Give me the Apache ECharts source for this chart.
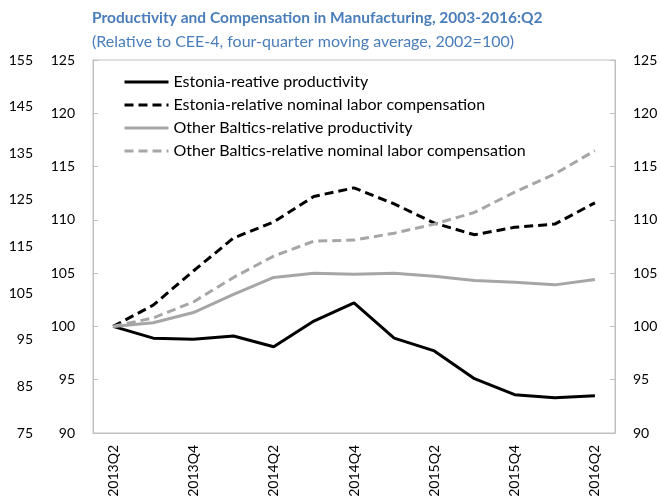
<!DOCTYPE html>
<html>
<head>
<meta charset="utf-8">
<script src="https://cdn.jsdelivr.net/npm/echarts@6/dist/echarts.min.js"></script>
<style>
html,body{margin:0;padding:0;background:#fff;}
#chart{width:661px;height:502px;}
</style>
</head>
<body>
<div id="chart"></div>
<script>
var categories = ['2013Q2','2013Q3','2013Q4','2014Q1','2014Q2','2014Q3','2014Q4','2015Q1','2015Q2','2015Q3','2015Q4','2016Q1','2016Q2'];
var estoniaProductivity = [100, 98.9, 98.8, 99.1, 98.1, 100.5, 102.2, 98.9, 97.7, 95.1, 93.6, 93.3, 93.5];
var estoniaCompensation = [100, 102.0, 105.2, 108.3, 109.8, 112.2, 113.0, 111.5, 109.7, 108.6, 109.3, 109.6, 111.6];
var balticsProductivity = [100, 100.35, 101.3, 103.0, 104.6, 105.0, 104.9, 105.0, 104.7, 104.3, 104.15, 103.9, 104.4];
var balticsCompensation = [100, 100.8, 102.3, 104.6, 106.6, 108.0, 108.1, 108.75, 109.6, 110.7, 112.6, 114.3, 116.5];
var seriesNames = ['Estonia-reative productivity','Estonia-relative nominal labor compensation','Other Baltics-relative productivity','Other Baltics-relative nominal labor compensation'];
var outerAxisBase = 75; // outer left axis labels 75..155

var FONT = 'Lato';
var GRAY = '#a6a6a6';
var AXIS = '#bfbfbf';
var chart = echarts.init(document.getElementById('chart'));
function mk(name, data, color, dashed){
  return {
    name: name, type: 'line', data: data, yAxisIndex: 0,
    symbol: 'none', smooth: false,
    lineStyle: {color: color, width: 3, type: dashed ? [9,5] : 'solid'},
    itemStyle: {color: color}
  };
}
chart.setOption({
  animation: false,
  textStyle: {fontFamily: FONT},
  title: {
    left: 92, top: 10, padding: 0,
    text: 'Productivity and Compensation in Manufacturing, 2003-2016:Q2',
    textStyle: {fontFamily: FONT, fontSize: 15.5, fontWeight: 'bold', color: '#4a7ebb'},
    subtext: '(Relative to CEE-4, four-quarter moving average, 2002=100)',
    subtextStyle: {fontFamily: FONT, fontSize: 16, color: '#4a7ebb'},
    itemGap: 8
  },
  legend: {
    orient: 'vertical', left: 123, top: 74, padding: 0,
    itemWidth: 44, itemHeight: 12, itemGap: 7,
    itemStyle: {opacity: 0},
    lineStyle: {width: 3},
    textStyle: {fontFamily: FONT, fontSize: 16, color: '#000'},
    data: seriesNames
  },
  grid: {left: 93, right: 46, top: 60, bottom: 69, show: true, borderColor: AXIS, borderWidth: 1, containLabel: false},
  xAxis: {
    type: 'category', data: categories, boundaryGap: true,
    axisLine: {lineStyle: {color: AXIS}},
    axisTick: {inside: true, length: 5, interval: 0, lineStyle: {color: AXIS}},
    axisLabel: {interval: 1, rotate: 90, margin: 12, fontSize: 14, fontFamily: FONT, color: '#000'}
  },
  yAxis: [
    {type: 'value', position: 'left', min: 90, max: 125, interval: 5,
     axisLine: {show: true, lineStyle: {color: AXIS}},
     axisTick: {show: true, inside: true, length: 5, lineStyle: {color: AXIS}},
     splitLine: {show: false},
     axisLabel: {margin: 18, fontSize: 14, fontFamily: FONT, color: '#000'}},
    {type: 'value', position: 'right', min: 90, max: 125, interval: 5,
     axisLine: {show: true, lineStyle: {color: AXIS}},
     axisTick: {show: true, inside: true, length: 5, lineStyle: {color: AXIS}},
     splitLine: {show: false},
     axisLabel: {margin: 18, fontSize: 14, fontFamily: FONT, color: '#000'}},
    {type: 'value', position: 'left', offset: 42, min: 0, max: 80, interval: 10,
     axisLine: {show: false}, axisTick: {show: false}, splitLine: {show: false},
     axisLabel: {margin: 18, fontSize: 14, fontFamily: FONT, color: '#000',
       formatter: function(v){ return String(v + outerAxisBase); }}}
  ],
  series: [
    mk(seriesNames[0], estoniaProductivity, '#000', false),
    mk(seriesNames[1], estoniaCompensation, '#000', true),
    mk(seriesNames[2], balticsProductivity, GRAY, false),
    mk(seriesNames[3], balticsCompensation, GRAY, true)
  ]
});
</script>
</body>
</html>
